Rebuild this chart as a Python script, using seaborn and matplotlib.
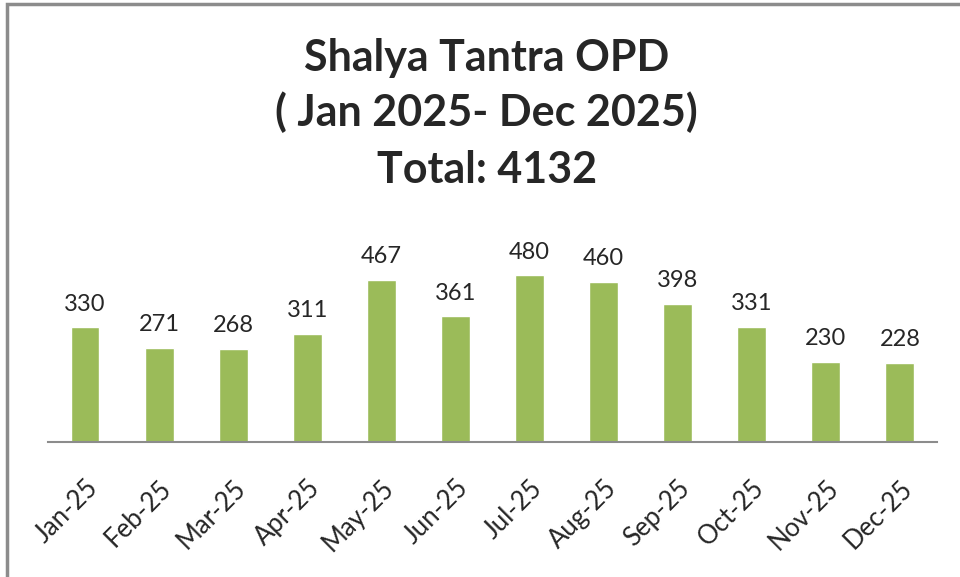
import pandas as pd
import matplotlib.pyplot as plt
import seaborn as sns
from matplotlib.patches import Rectangle

# monthly OPD counts
months = ["Jan-25", "Feb-25", "Mar-25", "Apr-25", "May-25", "Jun-25",
          "Jul-25", "Aug-25", "Sep-25", "Oct-25", "Nov-25", "Dec-25"]
patients = [330, 271, 268, 311, 467, 361, 480, 460, 398, 331, 230, 228]
title_lines = ["Shalya Tantra OPD", "( Jan 2025- Dec 2025)", "Total: 4132"]

df = pd.DataFrame({"month": months, "patients": patients})

sns.set_style("white")
plt.rcParams["font.family"] = ["Lato", "DejaVu Sans"]

fig = plt.figure(figsize=(9.6, 5.77), dpi=100)
ax = fig.add_axes([0.05, 0.234, 0.926, 0.419])

sns.barplot(data=df, x="month", y="patients", color="#9BBB59",
            saturation=1, width=0.39, ax=ax)

ax.set_xlim(-0.5, len(months) - 0.5)
ax.set_ylim(0, 695)
ax.set_xlabel("")
ax.set_ylabel("")
ax.set_yticks([])

for side in ["top", "right", "left"]:
    ax.spines[side].set_visible(False)
ax.spines["bottom"].set_color("#8c8c8c")
ax.spines["bottom"].set_linewidth(1.5)

ax.tick_params(axis="x", length=0, pad=24, labelsize=18.5)
for lbl in ax.get_xticklabels():
    lbl.set_rotation(45)
    lbl.set_ha("right")
    lbl.set_rotation_mode("anchor")

ax.bar_label(ax.containers[0], padding=9, fontsize=17)

fig.text(0.507, 0.9, title_lines[0], ha="center", va="center",
         fontsize=31, fontweight="bold")
fig.text(0.507, 0.806, title_lines[1], ha="center", va="center",
         fontsize=31, fontweight="bold")
fig.text(0.507, 0.705, title_lines[2], ha="center", va="center",
         fontsize=31, fontweight="bold")

# chart frame (right and bottom edges fall outside the image)
fig.patches.append(Rectangle((6.5 / 960, -0.1), 1.2, 1.1 - 3.5 / 577,
                             transform=fig.transFigure, fill=False,
                             edgecolor="#8c8c8c", linewidth=2.5))

fig.savefig("out.png", dpi=100)
